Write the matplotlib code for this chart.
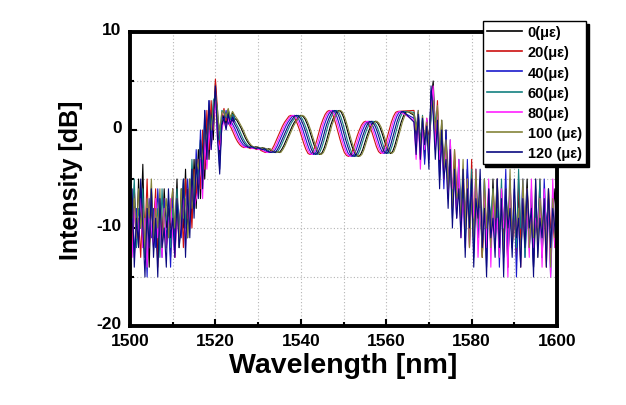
import numpy as np
import matplotlib
matplotlib.use("Agg")
import matplotlib.pyplot as plt
import matplotlib.transforms as mtransforms
from matplotlib.ticker import MultipleLocator

plt.rcParams['font.family'] = ['Liberation Sans', 'DejaVu Sans']
plt.rcParams['font.weight'] = 'bold'
plt.rcParams['axes.unicode_minus'] = False

# strain labels and colours of the 7 spectra
labels = ["0(\u03bc\u03b5)", "20(\u03bc\u03b5)", "40(\u03bc\u03b5)", "60(\u03bc\u03b5)",
          "80(\u03bc\u03b5)", "100 (\u03bc\u03b5)", "120 (\u03bc\u03b5)"]
colors = ["#000000", "#cc1111", "#1a1acc", "#138080", "#ff20ff", "#84843a", "#0a0a80"]

# fringe shift of each spectrum relative to the 0 strain curve [nm]
shift_nm = [0.0, -2.3, -1.5, -0.6, -1.9, 0.3, -1.0]

# left noisy band, 1500 - 1524.5 nm, 0.5 nm step
left_start = 1500.0
left_noise = [
    [-6, -11, -7, -12, -5, -10, -3.5, -13, -8, -14, -6, -11, -7, -13, -9, -12, -6, -10, -8, -13, -7, -11, -5, -12,
     -6, -10, -4, -11, -5, -9, -3, -8, -2, -7, -1, -5, 1, -3, 2, -1,
     4.8, 1, -3, 0.5, 1.5, 0.5, 2.0, 1.0, 1.8, 1.2],
    [-8, -12, -6, -10, -9, -13, -7, -11, -5, -12, -8, -10, -6, -14, -8, -11, -7, -12, -9, -10, -6, -13, -8, -10,
     -7, -12, -5, -9, -6, -10, -4, -7, -3, -6, 0, -4, 2, -2, 3, 0,
     5.2, 2, -2, 1, 2.2, 1.0, 1.6, 0.8, 1.4, 1.1],
    [-10, -7, -13, -8, -11, -6, -12, -9, -15, -7, -11, -8, -12, -6, -10, -13, -7, -11, -9, -14, -6, -12, -7, -9,
     -11, -6, -10, -5, -9, -4, -8, -2, -6, 0, -5, 2, -3, 3, -1, 2,
     4.0, 0, -4, 1.5, 0.8, 2.0, 0.6, 1.4, 0.9, 1.5],
    [-7, -9, -5, -12, -8, -10, -6, -13, -9, -11, -7, -12, -10, -8, -13, -6, -11, -9, -7, -12, -8, -10, -6, -11,
     -8, -5, -10, -6, -9, -3, -7, -4, -5, -1, -4, 1, -2, 2, 0, 3,
     3.5, 2, -1, 2.0, 1.8, 1.3, 2.1, 1.0, 1.6, 1.2],
    [-9, -13, -8, -11, -10, -7, -12, -9, -14, -8, -10, -12, -7, -11, -9, -13, -8, -12, -10, -7, -11, -13, -9, -11,
     -9, -7, -12, -6, -10, -5, -8, -7, -6, -3, -7, -1, -4, 0, -2, 1,
     3.0, -1, -2, 0.0, 1.0, 0.2, 1.2, 0.4, 1.0, 0.8],
    [-5, -9, -7, -11, -6, -10, -8, -12, -7, -9, -5, -11, -8, -10, -6, -12, -9, -7, -11, -8, -6, -10, -7, -12,
     -6, -9, -7, -11, -5, -8, -6, -3, -4, -2, -3, 0, -1, 1, 0, 2,
     3.8, 1.5, 0, 1.8, 2.0, 1.4, 2.2, 1.3, 1.9, 1.5],
    [-11, -6, -14, -9, -12, -5, -10, -15, -8, -12, -6, -13, -9, -15, -7, -12, -10, -14, -6, -11, -9, -13, -7, -12,
     -10, -5, -13, -6, -11, -4, -9, -3, -7, -1, -6, 2, -3, 3, -2, 1,
     4.5, -1, -4.5, 0.5, 1.2, 0.0, 1.6, 0.6, 1.3, 0.9],
]

# central interference fringes of the 0 strain curve, 1525 - 1565 nm, 0.5 nm step
center_start = 1525.0
center_db = [1.0, 0.6, 0.2, -0.3, -0.8, -1.2, -1.5, -1.7, -1.8, -1.7,
             -1.8, -1.9, -1.8, -1.9, -2.0, -1.9, -2.1, -2.2, -2.3, -2.2,
             -2.3, -2.0, -1.6, -1.1, -0.6, -0.1, 0.4, 0.8, 1.1, 1.4,
             1.5, 1.4, 1.1, 0.6, 0.0, -0.7, -1.4, -2.0, -2.4, -2.5,
             -2.3, -1.8, -1.1, -0.3, 0.5, 1.1, 1.6, 1.9, 2.0, 1.8,
             1.3, 0.6, -0.2, -1.0, -1.7, -2.3, -2.6, -2.7, -2.5, -2.0,
             -1.3, -0.6, 0.0, 0.5, 0.8, 0.9, 0.7, 0.3, -0.3, -1.0,
             -1.7, -2.2, -2.4, -2.2, -1.6, -0.8, 0.0, 0.8, 1.4, 1.8,
             1.9]

# right noisy band, 1566.5 - 1600 nm, 0.5 nm step
right_start = 1566.5
right_noise = [
    [1.5, -1, 1.8, -2, 1.0, -3, 0.5, -1, 3, 5.0, 0,
     2, -4, 1, -5, 0, -6, -2, -7, -3, -8, -4, -9,
     -5, -10, -4, -11, -6, -12, -5, -10, -7, -13, -6, -11, -8, -12,
     -5, -11, -7, -13, -6, -10, -8, -14, -5, -12, -9, -11, -6, -13, -8, -10, -5, -12, -7, -14,
     -9, -11, -6, -13, -8, -10, -7, -12, -9, -6, -11],
    [2.0, 0, 1.5, -3, 0.8, -1, 1.2, -2, 2, 4.0, -1,
     3, -3, 0, -4, -1, -5, -3, -8, -2, -6, -5, -10,
     -4, -9, -6, -12, -3, -10, -7, -11, -5, -13, -8, -10, -6, -12,
     -7, -10, -5, -12, -8, -11, -6, -14, -7, -10, -9, -13, -5, -11, -8, -12, -6, -10, -9, -13,
     -7, -11, -5, -12, -8, -14, -6, -10, -9, -12, -7],
    [1.2, -2, 2.0, -1, 0.5, -3.5, 1.0, -3, 4, 2.5, -2,
     1, -5, -1, -6, 0, -7, -2, -9, -4, -8, -3, -10,
     -6, -12, -3, -9, -5, -13, -4, -11, -7, -12, -5, -14, -6, -10,
     -8, -12, -5, -14, -7, -10, -4, -13, -9, -11, -6, -15, -8, -10, -5, -13, -7, -12, -9, -14,
     -6, -11, -8, -13, -5, -10, -7, -15, -9, -11, -6],
    [1.8, 0.5, 1.0, -1.5, 1.5, -2, 0, -1, 1, 3.5, 1,
     1.5, -2, 0, -4, -2, -6, -1, -7, -4, -9, -3, -8,
     -5, -11, -7, -9, -4, -12, -6, -10, -8, -11, -5, -12, -7, -9,
     -6, -12, -8, -10, -5, -13, -7, -9, -6, -11, -8, -12, -4, -10, -7, -13, -9, -11, -6, -12,
     -8, -10, -5, -13, -7, -11, -9, -12, -6, -10, -8],
    [1.0, -3, 1.5, -4, 0.5, -2, 1.2, -3, 2.5, 4.5, -2,
     2, -3, -1, -5, -2, -7, -1, -6, -5, -9, -3, -11,
     -7, -10, -5, -12, -6, -9, -4, -13, -8, -11, -6, -12, -5, -14,
     -7, -11, -9, -13, -6, -10, -8, -15, -5, -12, -7, -10, -9, -14, -6, -11, -8, -13, -5, -12,
     -9, -10, -7, -14, -6, -11, -8, -15, -5, -12, -9],
    [1.6, 0, 2.0, -2, 1.4, -1, 0.8, -2, 2, 3.0, 0,
     2.5, -2, 1, -4, -1, -6, -3, -8, -2, -7, -6, -9,
     -3, -10, -5, -12, -7, -11, -4, -9, -6, -13, -5, -10, -7, -12,
     -6, -9, -5, -11, -8, -13, -6, -10, -4, -12, -7, -11, -8, -14, -5, -10, -6, -12, -9, -11,
     -5, -13, -7, -10, -8, -12, -6, -14, -7, -11, -10],
    [0.8, -2.5, 1.6, -3, 1.2, -1.5, 0.4, -4, 4.5, 1.5, -3,
     1, -6, 0, -5, -3, -8, -2, -10, -4, -9, -6, -11,
     -4, -13, -6, -10, -5, -14, -7, -9, -4, -12, -8, -15, -6, -11,
     -9, -13, -5, -12, -7, -15, -6, -10, -8, -13, -5, -11, -9, -14, -7, -12, -6, -10, -8, -15,
     -5, -13, -9, -11, -7, -14, -6, -12, -8, -10, -13],
]

step = 0.5

fig = plt.figure(figsize=(6.26, 4.06), dpi=100)
ax = fig.add_axes([0.2077, 0.1946, 0.6821, 0.7241])

for i in range(len(labels)):
    xl = left_start + step * np.arange(len(left_noise[i]))
    xc = center_start + step * np.arange(len(center_db)) + shift_nm[i]
    xr = right_start + step * np.arange(len(right_noise[i]))
    x = np.concatenate([xl, xc, xr])
    y = np.concatenate([left_noise[i], center_db, right_noise[i]])
    ax.plot(x, y, color=colors[i], lw=0.8, label=labels[i])

ax.set_xlim(1500, 1600)
ax.set_ylim(-20, 10)
ax.xaxis.set_major_locator(MultipleLocator(20))
ax.xaxis.set_minor_locator(MultipleLocator(10))
ax.yaxis.set_major_locator(MultipleLocator(10))
ax.yaxis.set_minor_locator(MultipleLocator(5))
ax.grid(True, which='both', color='#b4b4b4', linestyle=(0, (1, 2)), lw=0.8)
ax.set_axisbelow(True)

ax.tick_params(which='both', direction='in', width=1.5, labelsize=12.5)
ax.tick_params(which='major', length=5)
ax.tick_params(which='minor', length=3)
ax.tick_params(axis='x', pad=5)
ax.tick_params(axis='y', pad=6)
for lab in ax.get_xticklabels() + ax.get_yticklabels():
    lab.set_fontweight('bold')
# lift the bottom y label a little so it clears the "1500" below it
lift = mtransforms.ScaledTranslation(0, 3 / 72, fig.dpi_scale_trans)
for lab in ax.get_yticklabels():
    lab.set_transform(lab.get_transform() + lift)
for sp in ax.spines.values():
    sp.set_linewidth(2.8)

ax.set_xlabel("Wavelength [nm]", fontsize=20.5, fontweight='bold', labelpad=3)
ax.set_ylabel("Intensity [dB]", fontsize=18, fontweight='bold', labelpad=10)

leg = fig.legend(loc='upper left', bbox_to_anchor=(0.771, 0.946), fontsize=10.5,
                 frameon=True, fancybox=False, edgecolor='black', framealpha=1,
                 handlelength=2.4, handletextpad=0.4, labelspacing=0.42,
                 borderpad=0.3, borderaxespad=0,
                 shadow={'color': 'black', 'alpha': 1})
leg.get_frame().set_linewidth(1.0)
for t in leg.get_texts():
    t.set_fontweight('bold')
for h in leg.get_lines():
    h.set_linewidth(1.2)

fig.savefig("out.png", dpi=100)
